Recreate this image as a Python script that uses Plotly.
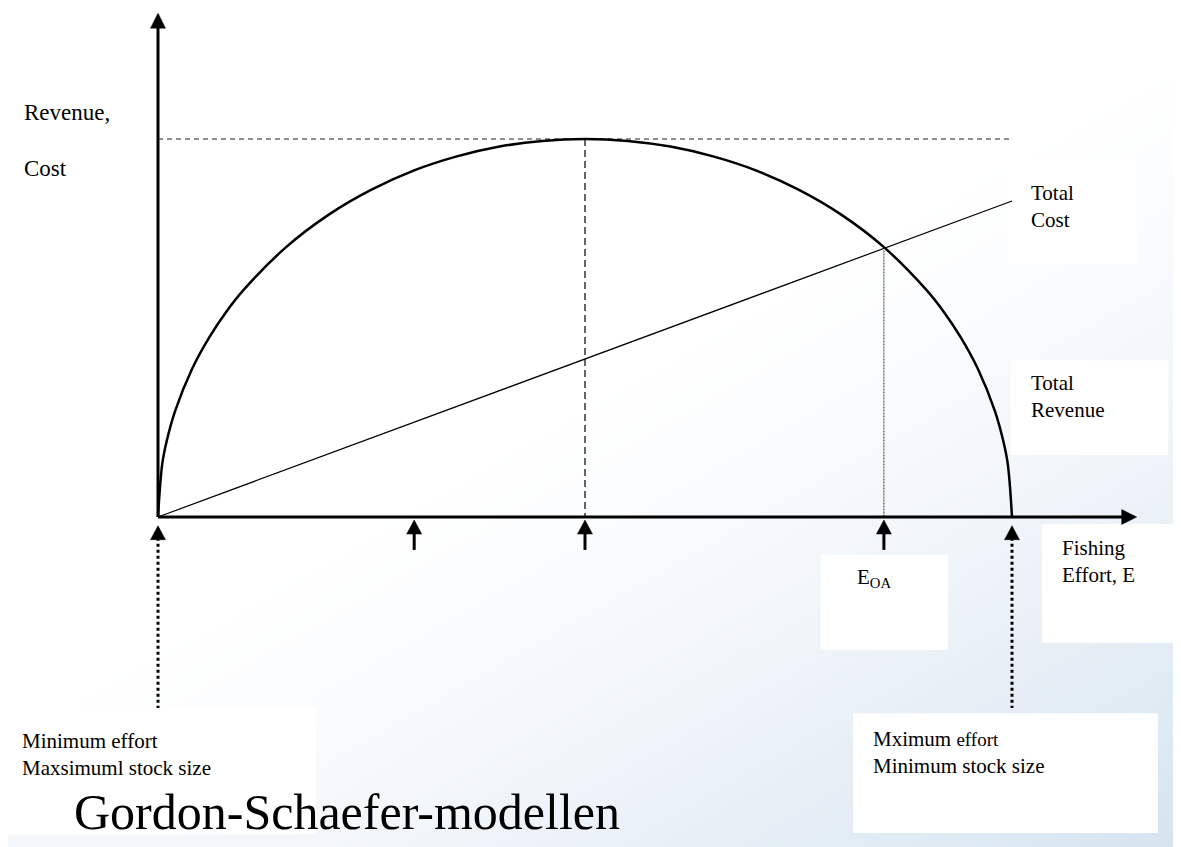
import base64
import struct
import zlib

import plotly.graph_objects as go

# revenue / cost curves (effort in % of max effort, revenue in % of max revenue)
effort = [0, 0.5, 1, 2, 4, 6, 8, 10, 15, 20, 25, 30, 35, 40, 45, 50,
          55, 60, 65, 70, 75, 80, 85, 90, 92, 94, 96, 98, 99, 99.5, 100]
revenue = [0, 14.1, 19.9, 28.0, 39.2, 47.5, 54.3, 60.0, 71.4, 80.0, 86.6, 91.7, 95.4, 98.0, 99.5, 100,
           99.5, 98.0, 95.4, 91.7, 86.6, 80.0, 71.4, 60.0, 54.3, 47.5, 39.2, 28.0, 19.9, 14.1, 0]
cost_effort = [0, 100]
cost = [0, 83.6]

e_msy = 50
r_msy = 100
e_oa = 85
r_oa = 70.5
e_max = 100
arrow_efforts = [30, 50, 85]
end_efforts = [0, 100]

W, H = 1181, 847
PAGE_OFFSET = 8  # body margin of the html page
PX_X = 8.54   # pixels per effort unit
PX_Y = 3.78   # pixels per revenue unit
X0_PX, Y0_PX = 158 - PAGE_OFFSET, 517 - PAGE_OFFSET
x_range = [-X0_PX / PX_X, (W - X0_PX) / PX_X]
y_range = [-(H - Y0_PX) / PX_Y, Y0_PX / PX_Y]

FONT = "Times New Roman, Liberation Serif, serif"


def png_uri(w, h, pixel):
    rows = []
    for j in range(h):
        row = bytearray([0])
        for i in range(w):
            row.extend(pixel((i + 0.5) / w, (j + 0.5) / h))
        rows.append(bytes(row))
    raw = b"".join(rows)

    def chunk(tag, data):
        return struct.pack(">I", len(data)) + tag + data + struct.pack(">I", zlib.crc32(tag + data) & 0xffffffff)

    png = (b"\x89PNG\r\n\x1a\n"
           + chunk(b"IHDR", struct.pack(">IIBBBBB", w, h, 8, 2, 0, 0, 0))
           + chunk(b"IDAT", zlib.compress(raw, 9))
           + chunk(b"IEND", b""))
    return "data:image/png;base64," + base64.b64encode(png).decode()


def bg_pixel(u, v):
    # u, v in figure fractions -> page pixels
    px = u * W + PAGE_OFFSET
    py = v * H + PAGE_OFFSET
    t = (0.8 * px / W + 1.0 * py / H - 0.85) / 0.95
    t = min(max(t, 0), 1) ** 1.3
    if py > 834:
        t = max(t, 0.3)
    c = (214, 228, 240)
    return [round(255 - (255 - ch) * t) for ch in c]


def head(x_tip, y_tip, direction, length=15, width=15):
    if direction == "up":
        dy, dx = length / PX_Y, width / 2 / PX_X
        return [x_tip - dx, x_tip, x_tip + dx, x_tip - dx], [y_tip - dy, y_tip, y_tip - dy, y_tip - dy]
    dx, dy = length / PX_X, width / 2 / PX_Y
    return [x_tip - dx, x_tip, x_tip - dx, x_tip - dx], [y_tip - dy, y_tip, y_tip + dy, y_tip - dy]


def add_head(fig, xs, ys):
    fig.add_trace(go.Scatter(x=xs, y=ys, mode="lines", fill="toself", fillcolor="black",
                             line=dict(color="black", width=0.5), hoverinfo="skip"))


def line(fig, xs, ys, width=1, dash="solid", color="black"):
    fig.add_trace(go.Scatter(x=xs, y=ys, mode="lines", line=dict(color=color, width=width, dash=dash),
                             hoverinfo="skip"))


fig = go.Figure()

# guide lines
line(fig, [0, e_max], [r_msy, r_msy], 1, "5px,4px", "#222")
line(fig, [e_msy, e_msy], [r_msy, 0], 1.2, "7px,4px")
line(fig, [e_oa, e_oa], [r_oa, 0], 1, "2px,1px", "#333")

# curves
fig.add_trace(go.Scatter(x=effort, y=revenue, mode="lines", line=dict(color="black", width=2.5, shape="spline"),
                         hoverinfo="skip"))
line(fig, cost_effort, cost, 1.2)

# axes with arrows
y_tip = 133.3
x_tip = 114.6
line(fig, [0, 0], [0, y_tip - 10 / PX_Y], 3)
add_head(fig, *head(0, y_tip, "up"))
line(fig, [0, x_tip - 10 / PX_X], [0, 0], 3)
add_head(fig, *head(x_tip, 0, "right"))

# small arrows under the effort axis
for e in arrow_efforts:
    tip = -0.8
    line(fig, [e, e], [tip - 10 / PX_Y, -8.7], 3)
    add_head(fig, *head(e, tip, "up", 14, 15))
for e in end_efforts:
    tip = -2.3
    line(fig, [e, e], [tip - 12 / PX_Y, -50.5], 3, "dot")
    add_head(fig, *head(e, tip, "up", 14, 15))

# white label boxes
boxes = [
    (99.5, 114.6, 66.9, 94.4),
    (99.8, 118.3, 16.4, 41.5),
    (103.5, 121.0, -33.3, -1.9),
    (77.6, 92.5, -35.2, -10.0),
    (-19.5, 18.5, -83.9, -50.3),
    (81.4, 117.1, -83.6, -51.9),
]
shapes = [dict(type="rect", xref="x", yref="y", x0=a, x1=b, y0=c, y1=d, fillcolor="white",
               line=dict(width=0), layer="below") for a, b, c, d in boxes]

labels = [
    ("Revenue,", -15.9, 107.1, 23),
    ("Cost", -15.9, 92.3, 23),
    ("Total<br>Cost", 102.0, 82.1, 21),
    ("Total<br>Revenue", 102.0, 32.0, 21),
    ("Fishing<br>Effort, E", 105.6, -11.8, 21),
    ("E<sub>OA</sub>", 81.6, -16.1, 21),
    ("Minimum effort<br>Maxsimuml stock size", -16.2, -62.7, 21),
    ("Mximum <span style='font-size:19px'>effort</span><br>Minimum stock size", 83.5, -62.4, 21),
]
annotations = [dict(text=t, x=x, y=y, xref="x", yref="y", xanchor="left", yanchor="middle", align="left",
                    showarrow=False, font=dict(family=FONT, size=s, color="black")) for t, x, y, s in labels]
annotations.append(dict(text="Gordon-Schaefer-modellen", x=22.1, y=-78.0, xref="x", yref="y",
                        xanchor="center", yanchor="middle", showarrow=False,
                        font=dict(family=FONT, size=50, color="black")))

fig.update_layout(
    width=W, height=H,
    margin=dict(l=0, r=0, t=0, b=0),
    paper_bgcolor="white",
    plot_bgcolor="rgba(0,0,0,0)",
    showlegend=False,
    xaxis=dict(range=x_range, visible=False, fixedrange=True),
    yaxis=dict(range=y_range, visible=False, fixedrange=True),
    shapes=shapes,
    annotations=annotations,
    images=[dict(source=png_uri(148, 212, bg_pixel), xref="paper", yref="paper", x=0, y=1,
                 sizex=1, sizey=1, sizing="stretch", xanchor="left", yanchor="top", layer="below")],
)

fig.write_html("out.html")
